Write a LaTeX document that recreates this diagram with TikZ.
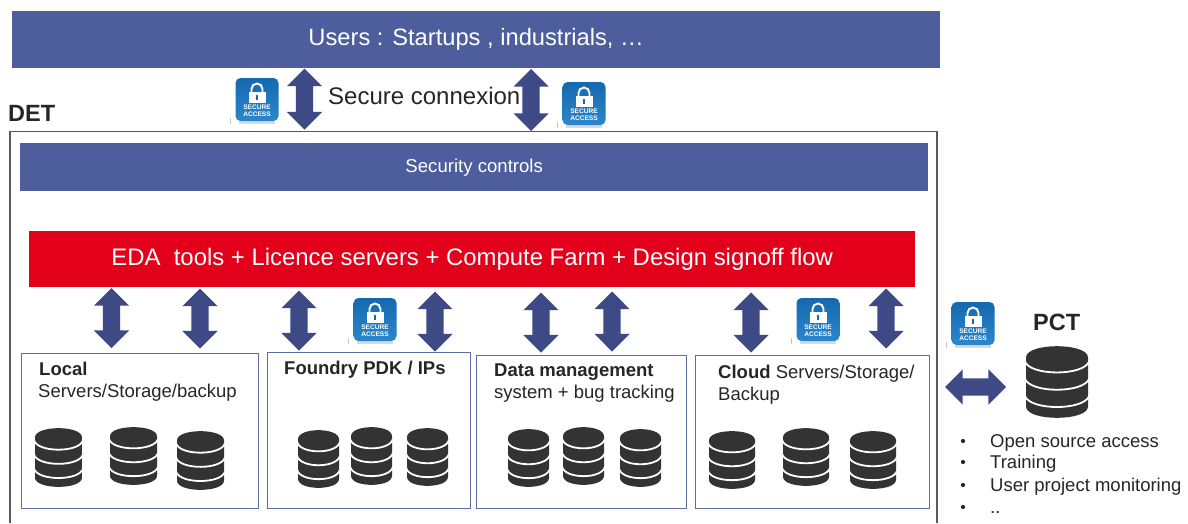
\documentclass[tikz,border=0pt]{standalone}
\usepackage{fontspec}
\setmainfont{Liberation Sans}
\usetikzlibrary{shapes.arrows}
\definecolor{barblue}{HTML}{4E5E9D}
\definecolor{arrowblue}{HTML}{3D4A85}
\definecolor{edared}{HTML}{E2001A}
\definecolor{boxline}{HTML}{5F6EA0}
\definecolor{dbdark}{HTML}{333333}
\definecolor{txt}{HTML}{262626}
\definecolor{lockblue}{HTML}{2A86CC}
\definecolor{lockdark}{HTML}{1569AE}
\tikzset{
  bar/.style={draw=none,fill=barblue,text=white,inner sep=0pt,anchor=north west},
  storebox/.style={draw=boxline,line width=0.9pt,fill=white,inner sep=0pt,anchor=north west},
  vlink/.style={double arrow,fill=arrowblue,draw=none,shape border rotate=90,inner sep=8.5pt,
    minimum height=60pt,double arrow head extend=9pt},
  hlink/.style={double arrow,fill=arrowblue,draw=none,inner sep=8.5pt,
    minimum height=61pt,double arrow head extend=9pt},
  lbl/.style={text=txt,anchor=base west,inner sep=0pt,font=\fontsize{18.5}{20}\selectfont},
  lblb/.style={text=txt,anchor=base west,inner sep=0pt,font=\bfseries\fontsize{18.5}{20}\selectfont},
  pctitem/.style={text=txt,anchor=base west,inner sep=0pt,font=\fontsize{18.5}{20}\selectfont},
}
% database icon: #1 left, #2 top, #3 width, #4 height (drawn in a 0-100 box)
\newcommand{\dbicon}[4]{%
  \pgfmathsetmacro{\dbx}{#3/100}\pgfmathsetmacro{\dby}{#4/100}%
  \begin{scope}[shift={(#1,#2)},x=\dbx pt,y=-\dby pt]
    \fill[dbdark] (0,16) .. controls (0,-5) and (100,-5) .. (100,16)
       -- (100,84) .. controls (100,105) and (0,105) .. (0,84) -- cycle;
    \draw[white,line width=1.8pt] (-2,21) .. controls (6,42) and (94,42) .. (102,21);
    \draw[white,line width=1.8pt] (-2,45) .. controls (6,66) and (94,66) .. (102,45);
    \draw[white,line width=1.8pt] (-2,69) .. controls (6,90) and (94,90) .. (102,69);
  \end{scope}}
% secure-access badge centred on #1,#2
\newcommand{\lockicon}[2]{%
  \begin{scope}[shift={(#1,#2)}]
    \fill[gray!30] (-18,19) rectangle (18,24);
    \draw[gray!45,line width=0.6pt] (-27,18) -- (-27,24);
    \shade[top color=lockdark,bottom color=lockblue,rounded corners=5pt] (-21.5,-22) rectangle (21.5,21);
    \draw[white,line width=1.9pt] (-5.5,-6) -- (-5.5,-11) arc[start angle=180,end angle=360,radius=5.5] -- (5.5,-6);
    \fill[white] (-8.5,-8) rectangle (8.5,3);
    \fill[lockdark] (0,-4) circle (1.4pt);
    \fill[lockdark] (-0.6,-4) rectangle (0.6,-0.5);
    \node[text=white,inner sep=0pt,align=center,font=\bfseries\fontsize{6.6}{7}\selectfont] at (0,10.5) {SECURE\\ACCESS};
  \end{scope}}
\begin{document}
\begin{tikzpicture}[x=1pt,y=-1pt]
\useasboundingbox (0,0) rectangle (1188,523);
\fill[white] (0,0) rectangle (1188,523);
% DET frame (runs off the bottom)
\draw[draw=black!65,line width=1.2pt] (10,523) -- (10,131.5) -- (937,131.5) -- (937,523);
\node[anchor=base west,inner sep=0pt,text=txt,font=\bfseries\fontsize{23.5}{26}\selectfont] (det) at (8,121) {DET};
% Bars
\node[bar,minimum width=928pt,minimum height=57pt,font=\fontsize{23.7}{26}\selectfont] (users) at (12,11) {\raisebox{-2pt}{Users : Startups , industrials, …}};
\node[bar,minimum width=908pt,minimum height=48pt,font=\fontsize{18.6}{20}\selectfont] (security) at (20,143) {Security controls};
\node[bar,fill=edared,minimum width=886pt,minimum height=56pt,font=\fontsize{23.9}{26}\selectfont] (eda) at (29,231) {\raisebox{-1pt}{EDA\ \ tools + Licence servers + Compute Farm + Design signoff flow}};
% Store boxes
\node[storebox,minimum width=237pt,minimum height=155pt] (local) at (21,353) {};
\node[storebox,minimum width=203pt,minimum height=156pt] (foundry) at (267,352) {};
\node[storebox,minimum width=210pt,minimum height=153pt] (data) at (476,355) {};
\node[storebox,minimum width=234pt,minimum height=153pt] (cloud) at (695,355) {};
% Upper arrows
\node[vlink,minimum height=61pt] (up1) at (304.5,99) {};
\node[vlink,minimum height=62pt] (up2) at (531,100) {};
\node[text=txt,anchor=base west,inner sep=0pt,font=\fontsize{24}{26}\selectfont] (conn) at (328,104) {Secure connexion};
% Lower arrows
\node[vlink] (a1) at (111.5,318) {};
\node[vlink] (a2) at (200,318.5) {};
\node[vlink] (a3) at (299,320.5) {};
\node[vlink] (a4) at (435,321.5) {};
\node[vlink] (a5) at (541,322.5) {};
\node[vlink] (a6) at (612,321.5) {};
\node[vlink] (a7) at (751,322.5) {};
\node[vlink] (a8) at (886,318.5) {};
\node[hlink] (a9) at (975.5,387) {};
% Badges
\lockicon{257}{100}
\lockicon{584}{104}
\lockicon{375}{320}
\lockicon{818}{320}
\lockicon{973}{324}
% Box labels
\node[lblb] (t1) at (39,375) {Local};
\node[lbl] (t2) at (38,397) {Servers/Storage/backup};
\node[lblb] (t3) at (284,374) {Foundry PDK / IPs};
\node[lblb] (t4) at (494,376) {Data management};
\node[lbl] (t5) at (494,398) {system + bug tracking};
\node[lbl] (t6) at (718,378) {\textbf{Cloud} Servers/Storage/};
\node[lbl] (t7) at (718,400) {Backup};
% Databases
\dbicon{35}{428}{47}{59}
\dbicon{110}{427}{47}{58}
\dbicon{177}{431}{47}{59}
\dbicon{298}{430}{41}{58}
\dbicon{351}{427}{41}{58}
\dbicon{407}{428}{41}{58}
\dbicon{508}{429}{41}{58}
\dbicon{563}{427}{41}{58}
\dbicon{620}{429}{41}{58}
\dbicon{709}{431}{46}{58}
\dbicon{783}{428}{46}{58}
\dbicon{850}{431}{46}{58}
\dbicon{1026}{346}{62}{72}
% PCT
\node[anchor=base west,inner sep=0pt,text=txt,font=\bfseries\fontsize{23.5}{26}\selectfont] (pct) at (1033,330) {PCT};
\foreach \yy/\nm/\tx in {447/p1/Open source access,468/p2/Training,491/p3/User project monitoring,513/p4/..}{
  \node[pctitem] (\nm) at (990,\yy) {\tx};
  \fill[txt] (963,\yy-6) circle (2.1pt);
}
\end{tikzpicture}
\end{document}
